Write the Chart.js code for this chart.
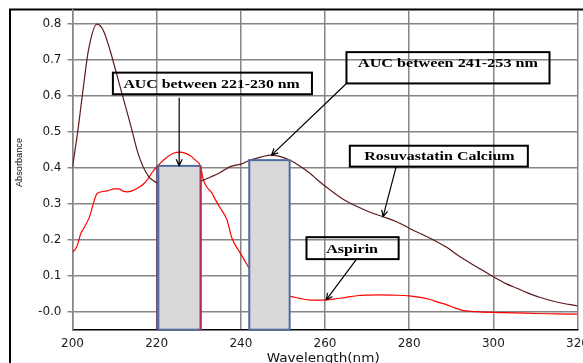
<!DOCTYPE html>
<html>
<head>
<meta charset="utf-8">
<script src="https://cdn.jsdelivr.net/npm/chart.js@4.4.1/dist/chart.umd.min.js"></script>
<style>
  html, body { margin: 0; padding: 0; background: #fff; }
  #chart { display: block; }
</style>
</head>
<body>
<canvas id="chart" width="583" height="363"></canvas>
<script>
// Spectra (wavelength in nm, absorbance)
var rosuWl  = [200, 201.4, 202.6, 203.8, 205.8, 207.3, 208.9, 211.3, 213.7, 215.7, 218.1, 219, 220,
               222, 224, 226, 228, 230.4, 232, 235, 237.5, 240, 242, 245, 247, 249, 251.8, 254, 256.5,
               258.3, 261, 264.6, 268, 271, 274, 277, 280, 283, 285.7, 289, 292, 296, 300, 303, 305.6,
               308, 311, 315, 320];
var rosuAbs = [0.40, 0.514, 0.625, 0.727, 0.799, 0.782, 0.727, 0.625, 0.523, 0.435, 0.375, 0.366, 0.358,
               0.352, 0.35, 0.351, 0.355, 0.362, 0.37, 0.386, 0.403, 0.41, 0.42, 0.43, 0.435, 0.432, 0.42, 0.405, 0.384,
               0.365, 0.34, 0.31, 0.29, 0.275, 0.263, 0.25, 0.232, 0.215, 0.2, 0.178, 0.153, 0.125, 0.097, 0.078, 0.065,
               0.053, 0.04, 0.027, 0.016];

var aspWl  = [200, 201, 202, 202.7, 204, 205.9, 208, 210, 211, 212, 213, 214, 216, 217, 218, 219, 220,
              222, 224, 225.6, 228, 229.2, 230.4, 231.1, 232, 233.1, 234, 235, 236.7, 237.9, 239.9, 241, 242,
              243, 244, 245, 246, 248, 250, 252, 254, 256.5, 258, 260, 262, 264, 266, 268, 270, 273, 276,
              280, 283, 285, 287, 289, 291, 293, 296, 300, 305, 310, 315, 320];
var aspAbs = [0.165, 0.18, 0.218, 0.232, 0.262, 0.329, 0.335, 0.341, 0.341, 0.335, 0.333, 0.335, 0.347, 0.356, 0.37, 0.388, 0.402,
              0.425, 0.44, 0.443, 0.433, 0.421, 0.405, 0.366, 0.345, 0.33, 0.31, 0.29, 0.255, 0.204, 0.162, 0.14, 0.12,
              0.10, 0.085, 0.072, 0.062, 0.052, 0.046, 0.042, 0.037, 0.032, 0.032, 0.033, 0.035, 0.038, 0.042, 0.045, 0.046, 0.047, 0.046,
              0.044, 0.039, 0.034, 0.026, 0.019, 0.01, 0.003, 0.0, -0.002, -0.003, -0.005, -0.006, -0.007];

var seriesNames = ['Rosuvastatin Calcium', 'Aspirin'];
var yTicks = [0, 0.1, 0.2, 0.3, 0.4, 0.5, 0.6, 0.7, 0.8];

// Shaded AUC windows
var aucStart = [220.4, 242.0];
var aucEnd   = [230.4, 251.6];
var aucTop   = [0.405, 0.421];

// Callout labels: box [x1, yTop, x2, yBottom], text start/end x and baseline y, arrow tail -> head (data units)
var calloutText = ['AUC between 221-230 nm', 'AUC between 241-253 nm', 'Rosuvastatin Calcium', 'Aspirin'];
var calloutBox  = [[209.6, 0.664, 256.9, 0.604], [265.1, 0.721, 313.35, 0.634],
                   [265.9, 0.461, 308.2, 0.403], [255.6, 0.207, 277.5, 0.146]];
var calloutTxt  = [[212.1, 254.0, 0.621], [267.85, 310.6, 0.681], [269.3, 305.05, 0.421], [260.3, 272.6, 0.164]];
var calloutArrow = [[225.35, 0.594, 225.35, 0.406], [265.1, 0.634, 247.3, 0.435],
                    [276.9, 0.402, 273.8, 0.264], [267.5, 0.146, 260.3, 0.033]];

function toPoints(xs, ys) {
    return xs.map(function(x, i) { return {x: x, y: ys[i]}; });
}

// draw text squeezed/stretched to a given width (the original is horizontally stretched)
function stretchedText(ctx, text, x, y, width) {
    var w = ctx.measureText(text).width;
    ctx.save();
    ctx.translate(x, y);
    ctx.scale(width / w, 1);
    ctx.fillText(text, 0, 0);
    ctx.restore();
}

function arrow(ctx, x1, y1, x2, y2) {
    var a = Math.atan2(y2 - y1, x2 - x1);
    var len = 7, spread = 0.45;
    ctx.beginPath();
    ctx.moveTo(x1, y1);
    ctx.lineTo(x2, y2);
    ctx.moveTo(x2 - len * Math.cos(a - spread), y2 - len * Math.sin(a - spread));
    ctx.lineTo(x2, y2);
    ctx.lineTo(x2 - len * Math.cos(a + spread), y2 - len * Math.sin(a + spread));
    ctx.stroke();
}

var framePlugin = {
    id: 'frame',
    beforeDraw: function(chart) {
        var ctx = chart.ctx;
        ctx.save();
        ctx.fillStyle = '#fff';
        ctx.fillRect(0, 0, chart.width, chart.height);
        ctx.strokeStyle = '#000';
        ctx.lineWidth = 2;
        ctx.beginPath();
        ctx.moveTo(10, chart.height);
        ctx.lineTo(10, 9.5);
        ctx.lineTo(chart.width, 9.5);
        ctx.stroke();
        ctx.restore();
    },
    afterDatasetsDraw: function(chart) {
        var ctx = chart.ctx, xs = chart.scales.x, ys = chart.scales.y;
        var bottom = chart.chartArea.bottom;
        ctx.save();
        for (var i = 0; i < aucStart.length; i++) {
            var l = xs.getPixelForValue(aucStart[i]);
            var r = xs.getPixelForValue(aucEnd[i]);
            var t = ys.getPixelForValue(aucTop[i]);
            ctx.fillStyle = '#d9d9d9';
            ctx.fillRect(l, t, r - l, bottom - t);
            ctx.strokeStyle = '#4f6d9a';
            ctx.lineWidth = 2;
            ctx.strokeRect(l, t, r - l, bottom - t);
            if (i === 0) {
                ctx.strokeStyle = '#c8203c';
                ctx.lineWidth = 1.5;
                ctx.beginPath();
                ctx.moveTo(r + 0.5, t);
                ctx.lineTo(r + 0.5, bottom);
                ctx.stroke();
                ctx.strokeStyle = '#6a3060';
                ctx.lineWidth = 1;
                ctx.beginPath();
                ctx.moveTo(l - 1.5, t);
                ctx.lineTo(l - 1.5, bottom);
                ctx.stroke();
            }
        }
        ctx.restore();
    },
    afterDraw: function(chart) {
        var ctx = chart.ctx, xs = chart.scales.x, ys = chart.scales.y;
        ctx.save();
        // callouts
        for (var i = 0; i < calloutText.length; i++) {
            var b = calloutBox[i];
            var bx = xs.getPixelForValue(b[0]), by = ys.getPixelForValue(b[1]);
            var bw = xs.getPixelForValue(b[2]) - bx, bh = ys.getPixelForValue(b[3]) - by;
            ctx.strokeStyle = '#000';
            ctx.lineWidth = 2;
            ctx.strokeRect(bx, by, bw, bh);
            var tx = calloutTxt[i];
            ctx.fillStyle = '#000';
            ctx.font = 'bold 12.5px "Liberation Serif", "Times New Roman", serif';
            ctx.textAlign = 'left';
            ctx.textBaseline = 'alphabetic';
            var x1 = xs.getPixelForValue(tx[0]), x2 = xs.getPixelForValue(tx[1]);
            stretchedText(ctx, calloutText[i], x1, ys.getPixelForValue(tx[2]), x2 - x1);
            var a = calloutArrow[i];
            ctx.lineWidth = 1.2;
            arrow(ctx, xs.getPixelForValue(a[0]), ys.getPixelForValue(a[1]),
                       xs.getPixelForValue(a[2]), ys.getPixelForValue(a[3]));
        }
        // axis titles
        ctx.fillStyle = '#111';
        ctx.textAlign = 'left';
        ctx.textBaseline = 'alphabetic';
        ctx.font = '13px "DejaVu Sans", sans-serif';
        var cx = (chart.chartArea.left + chart.chartArea.right) / 2;
        stretchedText(ctx, 'Wavelength(nm)', cx - 58.3, 362.2, 113);
        ctx.save();
        ctx.translate(21.7, 162.5);
        ctx.rotate(-Math.PI / 2);
        ctx.font = '9px "Liberation Sans", Arial, sans-serif';
        stretchedText(ctx, 'Absorbance', -24.5, 0, 49);
        ctx.restore();
        ctx.restore();
    }
};

var ctx = document.getElementById('chart');
var chart = new Chart(ctx, {
    type: 'line',
    data: {
        datasets: [
            {
                label: seriesNames[0],
                data: toPoints(rosuWl, rosuAbs),
                borderColor: '#5e1a1a',
                borderWidth: 1.2,
                pointRadius: 0,
                fill: false,
                cubicInterpolationMode: 'monotone'
            },
            {
                label: seriesNames[1],
                data: toPoints(aspWl, aspAbs),
                borderColor: '#ff0000',
                borderWidth: 1.2,
                pointRadius: 0,
                fill: false,
                cubicInterpolationMode: 'monotone'
            }
        ]
    },
    options: {
        responsive: false,
        animation: false,
        devicePixelRatio: 1,
        layout: { padding: { top: 10, right: 5.5, left: 0, bottom: 0 } },
        plugins: {
            legend: { display: false },
            tooltip: { enabled: false }
        },
        scales: {
            x: {
                type: 'linear',
                min: 200,
                max: 320,
                ticks: {
                    stepSize: 20,
                    padding: 7,
                    color: '#1a1a1a',
                    font: { family: '"DejaVu Sans", sans-serif', size: 12 }
                },
                grid: { color: '#858585', lineWidth: 1.5, drawTicks: false },
                border: { color: '#000', width: 1.5 },
                afterFit: function(s) {
                    s.height = 33.3;
                    s.paddingLeft = 0;
                    s.paddingRight = 0;
                }
            },
            y: {
                min: -0.05,
                max: 0.838,
                afterBuildTicks: function(s) {
                    s.ticks = yTicks.map(function(v) { return {value: v}; });
                },
                ticks: {
                    padding: 6,
                    color: '#1a1a1a',
                    font: { family: '"DejaVu Sans", sans-serif', size: 12 },
                    callback: function(v) { return v === 0 ? '-0.0' : v.toFixed(1); }
                },
                grid: { color: '#858585', lineWidth: 1.5, tickLength: 5 },
                border: { color: '#858585', width: 1.5 },
                afterFit: function(s) {
                    s.width = 72.5;
                    s.paddingTop = 0;
                    s.paddingBottom = 0;
                }
            }
        }
    },
    plugins: [framePlugin]
});
</script>
</body>
</html>
